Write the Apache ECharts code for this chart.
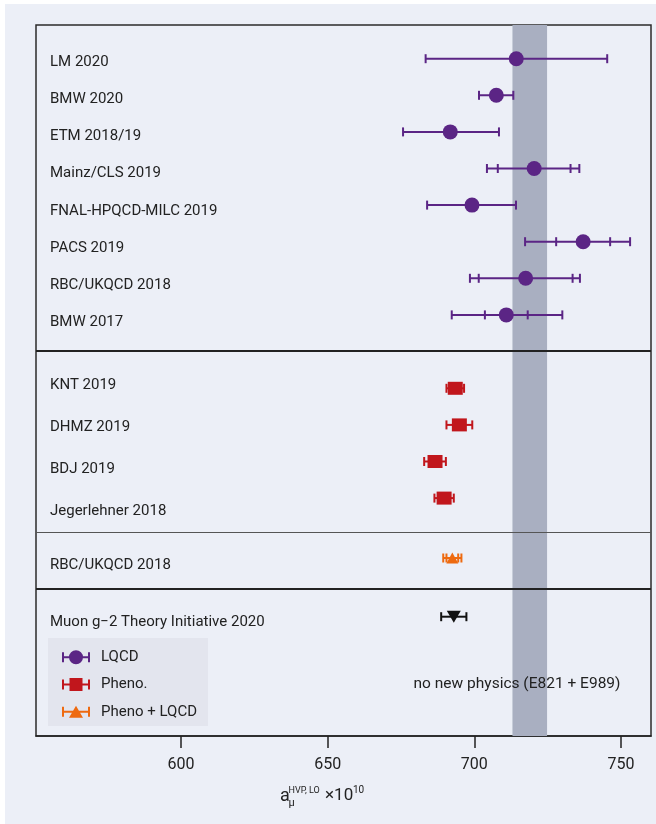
<!DOCTYPE html>
<html>
<head>
<meta charset="utf-8">
<script src="https://cdn.jsdelivr.net/npm/echarts@6/dist/echarts.min.js"></script>
<style>
html,body{margin:0;padding:0;background:#ffffff;}
#bg{position:absolute;left:5px;top:4px;width:651px;height:820px;background:#ECEFF7;}
#chart{position:absolute;left:0;top:0;width:656px;height:824px;}
</style>
</head>
<body>
<div id="bg"></div>
<div id="chart"></div>
<script>
// ---------------- DATA ----------------
const lqcdLabels = ['LM 2020','BMW 2020','ETM 2018/19','Mainz/CLS 2019','FNAL-HPQCD-MILC 2019','PACS 2019','RBC/UKQCD 2018','BMW 2017'];
const lqcdCenter = [714.3, 707.5, 691.8, 720.4, 699.2, 737.1, 717.5, 710.9];
const lqcdErrMinus = [30.9, 5.9, 16.1, 16.1, 15.3, 19.8, 19.0, 18.6];
const lqcdErrPlus  = [31.0, 5.8, 16.6, 15.4, 15.0, 16.0, 18.5, 19.1];
const lqcdStatErr  = [null, null, null, 12.4, null, 9.2, 16.0, 7.3];

const phenoLabels = ['KNT 2019','DHMZ 2019','BDJ 2019','Jegerlehner 2018'];
const phenoCenter = [693.5, 694.9, 686.6, 689.7];
const phenoErr    = [3.0, 4.4, 3.7, 3.3];

const comboLabels  = ['RBC/UKQCD 2018'];
const comboCenter  = [692.5];
const comboErr     = [3.1];
const comboStatErr = [2.0];

const theoryLabels = ['Muon g\u22122 Theory Initiative 2020'];
const theoryCenter = [693.0];
const theoryErr    = [4.3];

const bandRange = [713.0, 724.8];
const bandText = 'no new physics (E821 + E989)';
const xTicks = [600, 650, 700, 750];
const legendNames = ['LQCD', 'Pheno.', 'Pheno + LQCD'];

// ---------------- LAYOUT ----------------
const FONT = 'Roboto, sans-serif';
const TXT = '#222222';
const X_MIN = 550.57, X_MAX = 760.23;
const Y_MAX = 711;               // plot height in px; y value = distance from bottom
const STEP = 36.6;
const fromTop = d => Y_MAX - d;  // convert distance-from-top to y value
const lqcdY  = lqcdLabels.map((_, i) => fromTop(33.7 + STEP * i));
const phenoY = phenoLabels.map((_, i) => fromTop(363.3 + STEP * i));
const comboY = [fromTop(533)];
const theoryY = [fromTop(591.7)];
const lqcdLabelY  = lqcdLabels.map((_, i) => fromTop(37 + 37.2 * i));
const phenoLabelY = [360, 402, 444, 486].map(fromTop);
const comboLabelY = [540].map(fromTop);
const theoryLabelY = [597.5].map(fromTop);
const separators = [{y: fromTop(326), w: 2, c: '#222'}, {y: fromTop(507.3), w: 1.2, c: '#555'}, {y: fromTop(564), w: 2, c: '#222'}];

const C_LQCD = '#5B2585', C_PHENO = '#C1161C', C_COMBO = '#EE6A10', C_THEORY = '#111111';

function errData(center, minus, plus, stat, ys) {
  return center.map((c, i) => [c - minus[i], c + plus[i], ys[i],
    stat && stat[i] != null ? c - stat[i] : '-', stat && stat[i] != null ? c + stat[i] : '-']);
}
function errRender(color) {
  return function (params, api) {
    const y = api.value(2);
    const a = api.coord([api.value(0), y]);
    const b = api.coord([api.value(1), y]);
    const h = 4.5;
    const st = {stroke: color, lineWidth: 2};
    const cap = p => ({type: 'line', shape: {x1: p[0], y1: p[1] - h, x2: p[0], y2: p[1] + h}, style: st});
    const children = [{type: 'line', shape: {x1: a[0], y1: a[1], x2: b[0], y2: b[1]}, style: st}, cap(a), cap(b)];
    const s0 = api.value(3), s1 = api.value(4);
    if (!isNaN(s0) && !isNaN(s1)) {
      children.push(cap(api.coord([s0, y])));
      children.push(cap(api.coord([s1, y])));
    }
    return {type: 'group', children};
  };
}
function errSeries(name, color, data) {
  return {type: 'custom', name, renderItem: errRender(color), data, z: 3, silent: true,
    encode: {x: [0, 1], y: 2}, dimensions: ['lo', 'hi', 'y', 'slo', 'shi']};
}
function ptSeries(name, color, symbol, size, center, ys, rotate) {
  return {type: 'scatter', name, symbol, symbolSize: size, symbolRotate: rotate || 0,
    itemStyle: {color, opacity: 1}, z: 4, silent: true,
    data: center.map((c, i) => [c, ys[i]])};
}

const allLabels = [].concat(lqcdLabels, phenoLabels, comboLabels, theoryLabels);
const allLabelY = [].concat(lqcdLabelY, phenoLabelY, comboLabelY, theoryLabelY);

const iconBar = 'M0,2h2v10h-2z M26,2h2v10h-2z M0,6h28v2h-28z ';
const icons = [
  'path://' + iconBar + 'M7,7a7,7 0 1,1 14,0a7,7 0 1,1 -14,0z',
  'path://' + iconBar + 'M7.5,0.5h13v13h-13z',
  'path://' + iconBar + 'M7,13L14,1L21,13z'
];

const chart = echarts.init(document.getElementById('chart'), null, {renderer: 'canvas'});
chart.setOption({
  animation: false,
  backgroundColor: 'transparent',
  grid: {left: 36, right: 5, top: 25, bottom: 88, show: true, borderColor: '#2b2b2b', borderWidth: 1.5, backgroundColor: 'transparent'},
  xAxis: {
    type: 'value', min: X_MIN, max: X_MAX,
    axisLine: {show: true, lineStyle: {color: '#222', width: 1.5}},
    axisTick: {show: true, customValues: xTicks, length: 12, lineStyle: {color: '#222', width: 1.5}},
    axisLabel: {customValues: xTicks, fontSize: 16, color: TXT, margin: 21, fontFamily: FONT},
    splitLine: {show: false}
  },
  yAxis: {type: 'value', min: 0, max: Y_MAX, show: false},
  legend: {
    orient: 'vertical', left: 48, top: 638, selectedMode: false,
    backgroundColor: '#E3E5EE', padding: [11.7, 11, 6.7, 14], itemGap: 12.3,
    itemWidth: 28, itemHeight: 14,
    textStyle: {fontSize: 15, lineHeight: 14, color: TXT, fontFamily: FONT, padding: [0, 0, 0, 6]},
    data: legendNames.map((n, i) => ({name: n, icon: icons[i]}))
  },
  graphic: [
    {type: 'text', z: 100, x: 517, y: 684, style: {text: bandText, align: 'center', verticalAlign: 'middle', fontSize: 15.5, fontFamily: FONT, fill: TXT}},
    {type: 'text', z: 100, x: 280, y: 796, style: {text: 'a', fontSize: 18, fontFamily: FONT, fill: TXT, verticalAlign: 'middle'}},
    {type: 'text', z: 100, x: 288.5, y: 791, style: {text: 'HVP, LO', fontSize: 9, fontFamily: FONT, fill: TXT, verticalAlign: 'middle'}},
    {type: 'text', z: 100, x: 288.5, y: 803, style: {text: '\u03bc', fontSize: 11, fontFamily: FONT, fill: TXT, verticalAlign: 'middle'}},
    {type: 'text', z: 100, x: 325, y: 796, style: {text: '\u00d710', fontSize: 17, fontFamily: FONT, fill: TXT, verticalAlign: 'middle'}},
    {type: 'text', z: 100, x: 353, y: 790, style: {text: '10', fontSize: 10, fontFamily: FONT, fill: TXT, verticalAlign: 'middle'}}
  ],
  series: [
    {type: 'line', name: 'band', data: [], z: 1, silent: true, symbol: 'none',
      markArea: {silent: true, itemStyle: {color: '#A9AFC1', opacity: 1}, label: {show: false},
        data: [[{xAxis: bandRange[0], yAxis: 0}, {xAxis: bandRange[1], yAxis: Y_MAX}]]}},
    {type: 'line', name: 'sep', data: [], z: 2, silent: true, symbol: 'none',
      markLine: {silent: true, symbol: 'none', label: {show: false},
        data: separators.map(s => ({yAxis: s.y, lineStyle: {color: s.c, width: s.w, type: 'solid'}}))}},
    {type: 'custom', name: 'labels', z: 5, silent: true,
      data: allLabelY.map(y => [X_MIN, y]),
      encode: {x: 0, y: 1},
      renderItem: function (params, api) {
        const p = api.coord([api.value(0), api.value(1)]);
        return {type: 'text', x: p[0] + 14, y: p[1],
          style: {text: allLabels[params.dataIndex], fontSize: 15, fontFamily: FONT, fill: TXT, verticalAlign: 'middle'}};
      }},
    errSeries('LQCD err', C_LQCD, errData(lqcdCenter, lqcdErrMinus, lqcdErrPlus, lqcdStatErr, lqcdY)),
    errSeries('Pheno err', C_PHENO, errData(phenoCenter, phenoErr, phenoErr, null, phenoY)),
    errSeries('Combo err', C_COMBO, errData(comboCenter, comboErr, comboErr, comboStatErr, comboY)),
    errSeries('Theory err', C_THEORY, errData(theoryCenter, theoryErr, theoryErr, null, theoryY)),
    ptSeries('LQCD', C_LQCD, 'circle', 15, lqcdCenter, lqcdY),
    ptSeries('Pheno.', C_PHENO, 'rect', [15, 13], phenoCenter, phenoY),
    ptSeries('Pheno + LQCD', C_COMBO, 'triangle', [12, 11], comboCenter, comboY),
    ptSeries('Theory', C_THEORY, 'triangle', [14, 12], theoryCenter, theoryY, 180)
  ]
});
</script>
</body>
</html>
